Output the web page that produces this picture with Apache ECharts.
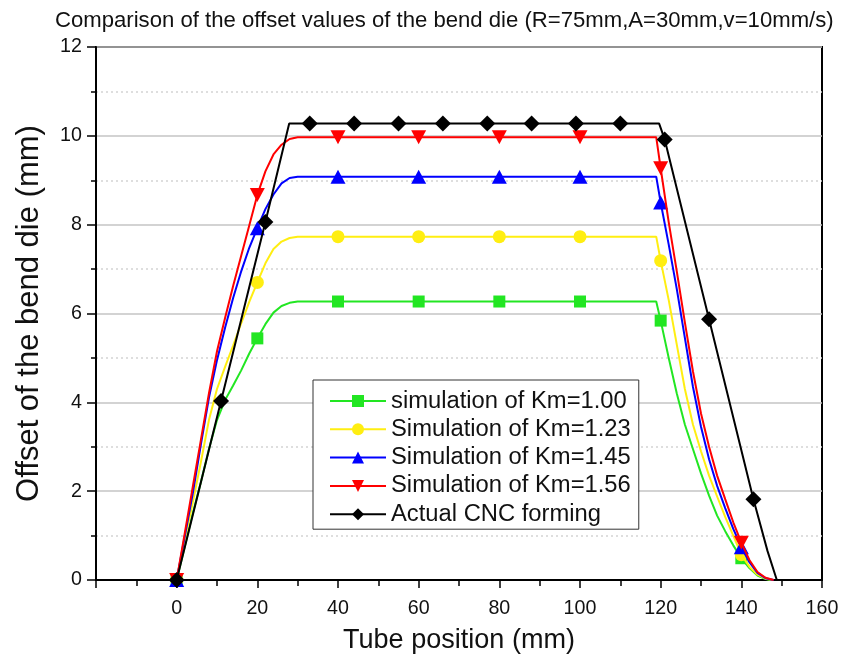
<!DOCTYPE html>
<html><head><meta charset="utf-8">
<script src="https://cdn.jsdelivr.net/npm/echarts@6/dist/echarts.min.js"></script>
<style>html,body{margin:0;padding:0;background:#fff}#c{width:861px;height:663px}</style>
</head><body><div id="c"></div>
<script>
// ---- data ----
const titleText = 'Comparison of the offset values of the bend die (R=75mm,A=30mm,v=10mm/s)';
const xName = 'Tube position (mm)';
const yName = 'Offset of the bend die (mm)';
const xRange = [-20, 160];
const yRange = [0, 12];
const seriesNames = ['simulation of Km=1.00','Simulation of Km=1.23','Simulation of Km=1.45','Simulation of Km=1.56','Actual CNC forming'];

const km100Curve = [[2,0.75],[4,1.5],[6,2.2],[8,2.95],[10,3.6],[12,4.05],[14,4.38],[16,4.72],[18,5.1],[22,5.76],[24,6.02],[26,6.17],[28,6.24],[30,6.27],[118.9,6.27],[122,5.0],[124,4.2],[126,3.5],[128,2.95],[130,2.4],[132,1.9],[134,1.45],[136,1.1],[138,0.78],[142,0.27],[144,0.1],[146,0.02],[147.3,0]];
const km100Marks = [[0,0],[20,5.44],[40,6.27],[60,6.27],[80,6.27],[100,6.27],[120,5.84],[140,0.49]];

const km123Curve = [[2,0.9],[4,1.75],[6,2.65],[8,3.6],[10,4.3],[12,4.8],[14,5.28],[16,5.78],[18,6.26],[22,7.13],[24,7.45],[26,7.62],[28,7.7],[30,7.73],[118.9,7.73],[122,6.3],[124,5.3],[126,4.3],[128,3.5],[130,2.9],[132,2.35],[134,1.88],[136,1.42],[138,1.0],[142,0.3],[144,0.12],[146,0.03],[147.8,0]];
const km123Marks = [[0,0],[20,6.70],[40,7.73],[60,7.73],[80,7.73],[100,7.73],[120,7.19],[140,0.57]];

const km145Curve = [[2,0.98],[4,1.95],[6,3.05],[8,4.1],[10,4.95],[12,5.68],[14,6.35],[16,6.95],[18,7.48],[22,8.35],[24,8.68],[26,8.93],[28,9.05],[30,9.08],[118.9,9.08],[122,7.55],[124,6.55],[126,5.45],[128,4.35],[130,3.45],[132,2.72],[134,2.12],[136,1.62],[138,1.15],[142,0.4],[144,0.16],[146,0.04],[148,0]];
const km145Marks = [[0,0],[20,7.92],[40,9.08],[60,9.08],[80,9.08],[100,9.08],[120,8.5],[140,0.74]];

const km156Curve = [[2,1.05],[4,2.1],[6,3.15],[8,4.2],[10,5.15],[12,5.9],[14,6.62],[16,7.3],[18,7.98],[22,9.2],[24,9.58],[26,9.8],[28,9.93],[30,9.97],[118.9,9.97],[122,8.05],[124,6.95],[126,5.8],[128,4.7],[130,3.75],[132,3.0],[134,2.35],[136,1.82],[138,1.3],[142,0.45],[144,0.18],[146,0.05],[148,0]];
const km156Marks = [[0,0],[20,8.67],[40,9.97],[60,9.97],[80,9.97],[100,9.97],[120,9.27],[140,0.84]];

const cncCurve = [[27.9,10.28],[119.6,10.28],[146.5,0.65],[148.8,0]];
const cncMarks = [[0,0],[11,4.03],[22,8.06],[33,10.28],[44,10.28],[55,10.28],[66,10.28],[77,10.28],[88,10.28],[99,10.28],[110,10.28],[121,9.92],[132,5.87],[143,1.82]];

// ---- font detection ----
function hasFont(f){
  const c=document.createElement('canvas').getContext('2d');
  const s='abcdefghijklmnopqrstuvwxyzWM0123';
  c.font='40px monospace'; const a=c.measureText(s).width;
  c.font='40px "'+f+'", monospace'; const b=c.measureText(s).width;
  return Math.abs(a-b)>0.5;
}
const narrowOK = hasFont('Liberation Sans Narrow');
const NF = narrowOK ? '"Liberation Sans Narrow"' : '"Liberation Sans", Arial, sans-serif';
const NS = narrowOK ? 1 : 0.82;
const RF = '"Liberation Sans", Arial, sans-serif';

function build(curve, marks){
  const pts = curve.map(p=>({value:p, symbol:'none'})).concat(marks.map(p=>({value:p})));
  pts.sort((a,b)=>a.value[0]-b.value[0]);
  return pts;
}
const cols = ['#22e622','#ffee11','#0000ff','#ff0000','#000000'];
const syms = ['rect','circle','triangle','path://M0,0L20,0L10,18Z','diamond'];
const sizes = [12,13,[15,14],[15,14],16];
const curves = [km100Curve,km123Curve,km145Curve,km156Curve,cncCurve];
const marks = [km100Marks,km123Marks,km145Marks,km156Marks,cncMarks];

const series = seriesNames.map((n,i)=>({
  name:n, type:'line', data: build(curves[i], marks[i]),
  symbol: syms[i], symbolSize: sizes[i], smooth:false,
  lineStyle:{color:cols[i], width:2}, itemStyle:{color:cols[i]},
  emphasis:{disabled:true}, z: 2+i
}));

const chart = echarts.init(document.getElementById('c'), null, {renderer:'canvas'});
chart.setOption({
  animation:false,
  backgroundColor:'#fff',
  title:{text:titleText, left:50, top:5, textStyle:{fontFamily:NF, fontSize:27*NS, fontWeight:'normal', color:'#111'}},
  grid:{left:96, right:39, top:47, bottom:83, show:true, borderColor:'#000', borderWidth:2, backgroundColor:'transparent'},
  legend:{
    orient:'vertical', left:313, top:380, data:seriesNames,
    itemWidth:56, itemHeight:15, itemGap:2.3,
    padding:[8,8,2,16], borderColor:'#333', borderWidth:1, backgroundColor:'#fff',
    textStyle:{fontFamily:NF, fontSize:29*NS, color:'#111', lineHeight:26}
  },
  xAxis:{
    type:'value', min:xRange[0], max:xRange[1], interval:20,
    name:xName, nameLocation:'middle', nameGap:47,
    nameTextStyle:{fontFamily:NF, fontSize:33*NS, color:'#111'},
    axisLine:{show:true, onZero:false, lineStyle:{color:'#000', width:2}},
    axisTick:{show:true, inside:false, length:8, lineStyle:{color:'#000', width:1.5}},
    minorTick:{show:true, splitNumber:2, length:6, lineStyle:{color:'#000', width:1.5}},
    axisLabel:{margin:19, fontFamily:NF, fontSize:24*NS, color:'#111', formatter:v=> v===xRange[0] ? '' : String(v)},
    splitLine:{show:false}
  },
  yAxis:{
    type:'value', min:yRange[0], max:yRange[1], interval:2,
    name:yName, nameLocation:'middle', nameGap:51, nameRotate:90,
    nameTextStyle:{fontFamily:RF, fontSize:31, color:'#111'},
    axisLine:{show:true, onZero:false, lineStyle:{color:'#000', width:2}},
    axisTick:{show:true, inside:false, length:9, lineStyle:{color:'#000', width:1.5}},
    minorTick:{show:true, splitNumber:2, length:5, lineStyle:{color:'#000', width:1.5}},
    axisLabel:{margin:14, fontFamily:NF, fontSize:24*NS, color:'#111'},
    splitLine:{show:true, lineStyle:{color:'#c4c4c4', width:1.5}},
    minorSplitLine:{show:true, lineStyle:{color:'#d4d4d4', width:1.5, type:[2,3]}}
  },
  series: series
});
</script></body></html>
